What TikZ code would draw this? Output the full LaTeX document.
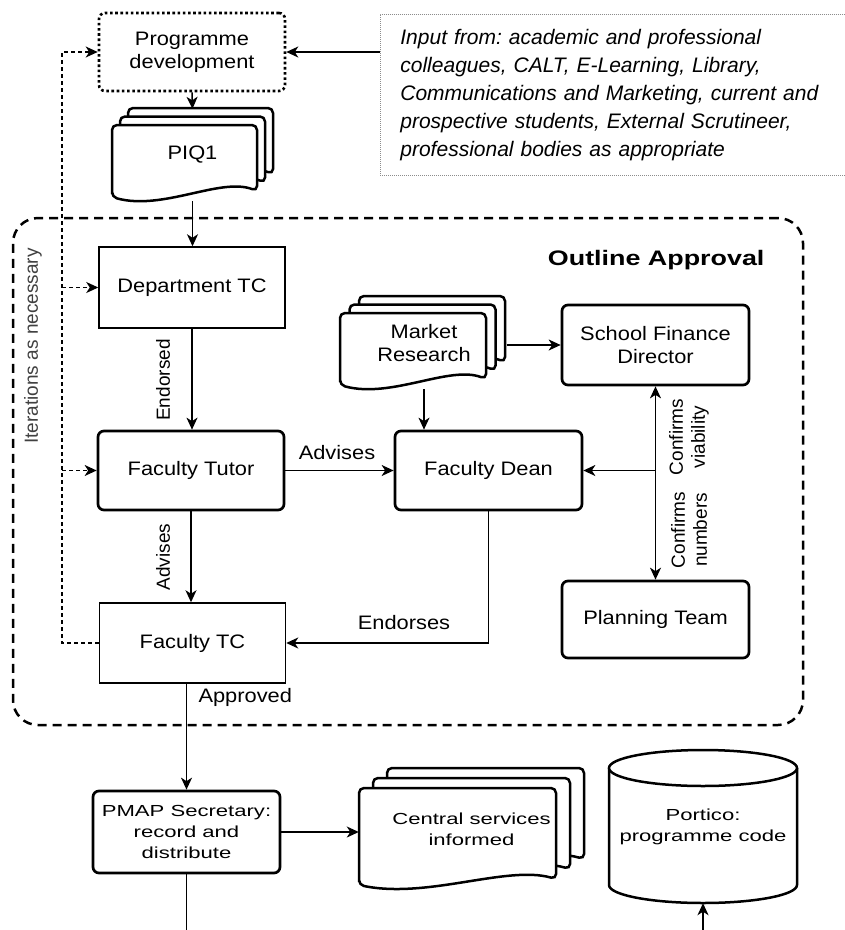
\documentclass[tikz,border=0pt]{standalone}
\usepackage{fontspec}
\setmainfont{Liberation Sans}
\newfontfamily\boxfont[FakeStretch=1.12]{Liberation Sans}
\newfontfamily\lowfont[FakeStretch=1.38]{Liberation Sans}
\newfontfamily\titlefont[FakeStretch=1.28]{Liberation Sans}
\usetikzlibrary{arrows.meta}
\frenchspacing

\tikzset{
  box/.style={draw, line width=1.5pt, minimum width=186pt, minimum height=80pt,
    align=center, inner sep=2pt, font=\boxfont\fontsize{19.5}{23}\selectfont},
  keybox/.style={box, rounded corners=6pt, line width=2.7pt},
  lowbox/.style={keybox, font=\lowfont\fontsize{16}{21}\selectfont},
  devbox/.style={box, rounded corners=6pt, line width=2.6pt, dash pattern=on 2.6pt off 2.6pt},
  inbox/.style={draw=black!45, line width=0.8pt, dash pattern=on 1pt off 1pt,
    minimum width=470pt, minimum height=161pt, text width=430pt, inner xsep=20pt,
    align=left, font=\itshape\fontsize{21}{28}\selectfont},
  frame/.style={draw, line width=2.5pt, rounded corners=25pt, dash pattern=on 9pt off 6pt},
  docline/.style={draw, fill=white, line width=2.5pt, rounded corners=5pt},
  doctext/.style={align=center, inner sep=0pt, font=\boxfont\fontsize{19.5}{23}\selectfont},
  lab/.style={font=\boxfont\fontsize{19.5}{23}\selectfont},
  sidelab/.style={rotate=90, align=center, font=\fontsize{19}{22}\selectfont},
  arr/.style={line width=1.5pt, -{Stealth[length=12pt,width=11pt,inset=3.5pt]}},
  twoarr/.style={line width=1.5pt, {Stealth[length=12pt,width=11pt,inset=3.5pt]}-{Stealth[length=12pt,width=11pt,inset=3.5pt]}},
  iter/.style={arr, line width=1.3pt, dash pattern=on 4pt off 3pt},
}

% one page of a document stack: x, y, width, height
\newcommand{\docpage}[4]{%
  \path[docline] (#1,{#2+#4}) -- (#1,#2) -- ({#1+#3},#2) -- ({#1+#3},{#2+#4-6})
    .. controls ({#1+0.75*#3},{#2+#4-20}) and ({#1+0.35*#3},{#2+#4+14}) .. (#1,{#2+#4}) -- cycle;}
% three pages: x, y, width, height, dx, dy
\newcommand{\docstack}[6]{%
  \pgfmathsetmacro{\dsxa}{#1+2*#5}\pgfmathsetmacro{\dsya}{#2+2*#6}%
  \pgfmathsetmacro{\dsxb}{#1+#5}\pgfmathsetmacro{\dsyb}{#2+#6}%
  \docpage{\dsxa}{\dsya}{#3}{#4}
  \docpage{\dsxb}{\dsyb}{#3}{#4}
  \docpage{#1}{#2}{#3}{#4}}

\begin{document}
\begin{tikzpicture}[x=1pt,y=-1pt]
\useasboundingbox (0,0) rectangle (845,930);

% outline approval frame
\node[frame, minimum width=790pt, minimum height=507pt] (outline) at (408,471.5) {};
\node[font=\titlefont\bfseries\fontsize{21}{24}\selectfont, anchor=east] (oatitle) at (768,260) {Outline Approval};

% top
\node[devbox, minimum height=78pt] (progdev) at (192,52) {Programme\\development};
\node[inbox, anchor=north west] (input) at (380,14) {Input from: academic and professional\\
colleagues, CALT, E-Learning, Library,\\
Communications and Marketing, current and\\
prospective students, External Scrutineer,\\
professional bodies as appropriate};

\docstack{112}{125}{145}{72}{8}{-8.5}
\node[doctext, minimum width=161pt, minimum height=92pt] (piq) at (192.5,155) {PIQ1};

% inside the frame
\node[box, minimum height=81pt] (dept) at (192,287.5) {Department TC};
\node[keybox, minimum height=79pt] (tutor) at (191,470.5) {Faculty Tutor};
\node[box] (ftc) at (192.5,643) {Faculty TC};
\node[keybox, minimum width=187pt, minimum height=79pt] (dean) at (488.5,470.5) {Faculty Dean};
\node[keybox, minimum width=187pt] (sfd) at (655.5,345) {School Finance\\Director};
\node[keybox, minimum width=187pt, minimum height=77pt] (plan) at (655.5,619.5) {Planning Team};

\docstack{340}{313}{146}{72}{9.5}{-8.5}
\node[doctext, minimum width=165pt, minimum height=92pt] (market) at (424,343) {Market\\Research};

% bottom
\node[lowbox, minimum width=187pt, minimum height=82pt] (pmap) at (186.5,832) {PMAP Secretary:\\record and\\distribute};

\docstack{359}{788}{197}{97}{14}{-10}
\node[doctext, font=\lowfont\fontsize{16}{21}\selectfont, minimum width=225pt, minimum height=120pt] (central) at (471.5,829) {Central services\\informed};

\path[draw, fill=white, line width=2.5pt] (609,768) -- (609,885)
  arc[start angle=180, end angle=0, x radius=94, y radius=18] -- (797,768);
\path[draw, fill=white, line width=2.5pt] (703,768) ellipse [x radius=94, y radius=18];
\node[doctext, font=\lowfont\fontsize{16}{21}\selectfont, minimum width=188pt, minimum height=153pt] (portico) at (703,826.5) {Portico:\\programme code};

\coordinate (itx) at (62,0);
\coordinate (pmapout) at (186.5,930);
\coordinate (portin) at (703,930);

% labels
\node[sidelab, text=black!75] (iterlab) at (33,346) {Iterations as necessary};
\node[sidelab] (endorsedlab) at (163,380) {Endorsed};
\node[sidelab] (advdownlab) at (163,557) {Advises};
\node[lab] (advlab) at (337,453) {Advises};
\node[lab] (endorseslab) at (404,623) {Endorses};
\node[lab, anchor=west] (approvedlab) at (195,697) {Approved};
\node[sidelab] (viablab) at (689,437) {Confirms\\viability};
\node[sidelab] (numlab) at (689,530) {Confirms\\numbers};

\path
  (input.west |- progdev.east) edge[arr] (progdev.east)
  (progdev.south) edge[arr] (piq.north)
  (piq.south) edge[arr] (piq.south |- dept.north)
  (dept.south) edge[arr] (dept.south |- tutor.north)
  (tutor.south) edge[arr] (tutor.south |- ftc.north)
  (tutor.east) edge[arr] (dean.west)
  (market.south) edge[arr] (market.south |- dean.north)
  (market.east |- sfd.west) edge[arr] (sfd.west)
  (sfd.south) edge[twoarr] (sfd.south |- plan.north)
  (sfd.south |- dean.east) edge[arr] (dean.east)
  (pmap.north |- ftc.south) edge[arr] (pmap.north)
  (pmap.east) edge[arr] (pmap.east -| central.west)
  (pmap.south) edge[line width=1.5pt] (pmapout)
  (portin) edge[arr] (portico.south)
;
\draw[arr] (dean.south) |- (ftc.east);
\draw[iter] (ftc.west) -- (ftc.west -| itx) |- (progdev.west);
\draw[iter] (itx |- dept.west) -- (dept.west);
\draw[iter] (itx |- tutor.west) -- (tutor.west);
\end{tikzpicture}
\end{document}
